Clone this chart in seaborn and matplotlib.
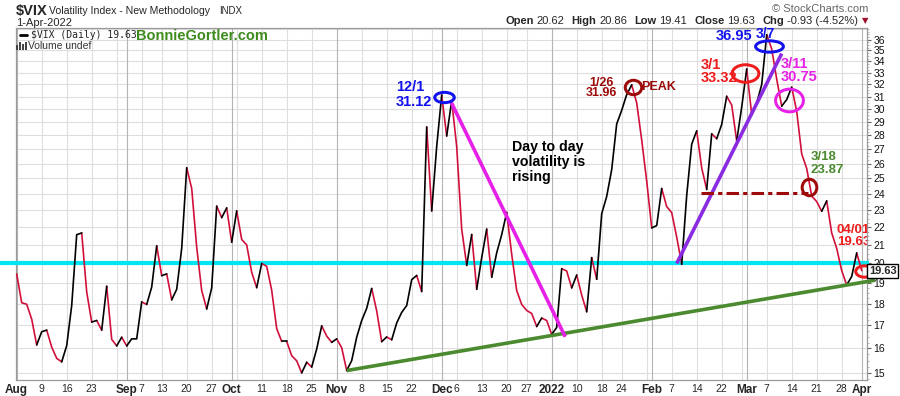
import numpy as np
import pandas as pd
import matplotlib
matplotlib.use("Agg")
import matplotlib.pyplot as plt
import seaborn as sns
from matplotlib import transforms
from matplotlib.lines import Line2D
from matplotlib.markers import MarkerStyle
from matplotlib.patches import Rectangle
from matplotlib.path import Path
from matplotlib.ticker import FixedLocator, NullFormatter

# --- data -----------------------------------------------------------------
HOLIDAYS = ["2021-09-06", "2021-11-25", "2021-12-24", "2022-01-17", "2022-02-21"]
trade_days = pd.bdate_range("2021-08-02", "2022-04-01")
trade_days = trade_days[~trade_days.isin(pd.to_datetime(HOLIDAYS))]

vix_close = [
    # Aug 2021
    19.46, 18.04, 17.97, 17.28, 16.15, 16.72, 16.79, 16.06, 15.59, 15.45, 16.12,
    17.91, 21.57, 21.67, 18.56, 17.15, 17.22, 16.79, 18.84, 16.39, 16.11, 16.48,
    # Sep
    16.11, 16.41, 16.41, 18.08, 17.96, 18.80, 20.95, 19.37, 19.46, 18.18, 18.69,
    20.81, 25.71, 24.36, 20.87, 18.63, 17.75, 18.76, 23.25, 22.56, 23.14,
    # Oct
    21.15, 22.96, 21.30, 21.00, 19.54, 18.77, 20.00, 19.85, 18.64, 16.86, 16.30,
    16.30, 15.70, 15.49, 15.01, 15.43, 15.24, 15.98, 16.98, 16.53, 16.26,
    # Nov
    16.41, 16.03, 15.10, 15.50, 16.48, 17.22, 17.78, 18.73, 17.66, 16.29, 16.49,
    16.37, 17.11, 17.59, 17.91, 19.17, 19.38, 18.58, 28.62, 22.96, 27.19,
    # Dec
    31.12, 27.95, 30.67, 27.18, 21.89, 19.90, 21.58, 18.69, 20.31, 21.89, 19.29,
    20.57, 21.57, 22.87, 20.49, 18.63, 17.96, 17.68, 17.54, 16.95, 17.33, 17.22,
    # Jan 2022
    16.60, 16.91, 19.73, 19.61, 18.76, 19.40, 18.41, 17.62, 20.31, 19.19, 22.79,
    23.85, 25.59, 28.85, 29.90, 31.16, 31.96, 30.49, 27.66, 24.83,
    # Feb
    21.96, 22.09, 24.35, 23.22, 22.86, 21.44, 19.96, 23.91, 27.36, 28.33, 25.70,
    24.29, 28.11, 27.75, 28.81, 31.02, 30.32, 27.59, 30.15,
    # Mar / Apr 1
    33.32, 29.57, 30.48, 31.98, 36.45, 35.13, 32.45, 30.23, 30.75, 31.77, 29.83,
    26.67, 25.67, 23.87, 23.53, 22.94, 23.57, 21.67, 20.81, 19.63, 18.90, 19.33,
    20.56, 19.63,
]

tick_dates = [
    "2021-08-02", "2021-08-09", "2021-08-16", "2021-08-23",
    "2021-09-01", "2021-09-07", "2021-09-13", "2021-09-20", "2021-09-27",
    "2021-10-01", "2021-10-11", "2021-10-18", "2021-10-25",
    "2021-11-01", "2021-11-08", "2021-11-15", "2021-11-22",
    "2021-12-01", "2021-12-06", "2021-12-13", "2021-12-20", "2021-12-27",
    "2022-01-03", "2022-01-10", "2022-01-18", "2022-01-24",
    "2022-02-01", "2022-02-07", "2022-02-14", "2022-02-22",
    "2022-03-01", "2022-03-07", "2022-03-14", "2022-03-21", "2022-03-28",
    "2022-04-01",
]
tick_labels = [
    "Aug", "9", "16", "23", "Sep", "7", "13", "20", "27", "Oct", "11", "18", "25",
    "Nov", "8", "15", "22", "Dec", "6", "13", "20", "27", "2022", "10", "18", "24",
    "Feb", "7", "14", "22", "Mar", "7", "14", "21", "28", "Apr",
]
y_ticks = list(range(15, 37))

quote = [("Open", "20.62"), ("High", "20.86"), ("Low", "19.41"),
         ("Close", "19.63"), ("Chg", "-0.93 (-4.52%)")]

# --- style ----------------------------------------------------------------
W, H = 900, 396
BLUE = "#1212ee"
DARK_RED = "#9c0a0a"
RED = "#ee1c1c"
MAGENTA = "#e620e6"
GREEN = "#4b8a2f"
CYAN = "#00e6f0"
PURPLE = "#8a2be2"
LINE_RED = "#d0103a"
GRID = "#dedede"
GRID_DARK = "#b4b4b4"

sns.set_style("white")
plt.rcParams["font.family"] = ["Liberation Sans", "DejaVu Sans"]
plt.rcParams["lines.scale_dashes"] = False

close = np.array(vix_close)


def day(d):
    return int(trade_days.get_loc(pd.Timestamp(d)))


def fx(x):
    return x / W


def fy(y):
    return 1 - y / H


# split the close series into up (black) / down (red) runs
rows = []
run, prev = 0, None
for i in range(1, len(close)):
    move = "up" if close[i] >= close[i - 1] else "down"
    if move != prev:
        run += 1
        rows.append((run, move, i - 1, close[i - 1]))
    rows.append((run, move, i, close[i]))
    prev = move
seg = pd.DataFrame(rows, columns=["run", "move", "idx", "vix"])

fig = plt.figure(figsize=(W / 100, H / 100), dpi=100)
ax = fig.add_axes([fx(16), 16 / H, 851 / W, 352 / H])
ax.set_yscale("log")

sns.lineplot(data=seg, x="idx", y="vix", hue="move", units="run", estimator=None,
             sort=False, palette={"up": "black", "down": LINE_RED}, linewidth=1.2,
             legend=False, ax=ax, zorder=5)

ax.set_xlim(-0.14, 170.06)
ax.set_ylim(14.73, 37.11)

# grid: integer levels, week starts, darker month starts
for v in range(15, 38):
    ax.axhline(v, color=GRID, lw=0.8, zorder=0)
pos = pd.Series(np.arange(len(trade_days)), index=trade_days)
week_starts = set(pos.groupby(trade_days.to_period("W")).min().values)
month_starts = set(pos.groupby(trade_days.to_period("M")).min().values)
for i in sorted(week_starts | month_starts):
    ax.axvline(i, color=GRID_DARK if i in month_starts else GRID, lw=0.8, zorder=0)

# axes
for sp in ax.spines.values():
    sp.set_color("#9a9a9a")
    sp.set_linewidth(0.9)
ax.set_xlabel("")
ax.set_ylabel("")
ax.yaxis.tick_right()
ax.set_yticks(y_ticks)
ax.set_yticklabels([str(v) for v in y_ticks])
ax.yaxis.set_minor_locator(FixedLocator(np.arange(14.75, 37.1, 0.25)))
ax.yaxis.set_minor_formatter(NullFormatter())
ax.tick_params(axis="y", which="major", length=3, width=0.8, color="#666",
               pad=1.5, labelsize=7.5, labelcolor="#111")
ax.tick_params(axis="y", which="minor", length=1.5, width=0.5, color="#999")
ax.set_xticks([day(d) for d in tick_dates])
ax.set_xticklabels(tick_labels)
for lab in ax.get_xticklabels():
    if len(lab.get_text()) > 2:
        lab.set_fontweight("bold")
        lab.set_fontsize(8.5)
    else:
        lab.set_fontsize(7.5)
ax.xaxis.set_minor_locator(FixedLocator(range(len(trade_days))))
ax.tick_params(axis="x", which="major", length=2, width=0.8, color="#666", pad=1)
ax.tick_params(axis="x", which="minor", length=1.5, width=0.5, color="#999")

# --- drawn annotations ------------------------------------------------------
# cyan level at 20
ax.plot([-3.4, 170.5], [20, 20], color=CYAN, lw=3, clip_on=False, zorder=4,
        solid_capstyle="butt")

# green support through the Nov-3 and Mar-29 lows, extended
i0, i1 = day("2021-11-03"), day("2022-03-29")
slope = np.log(close[i1] / close[i0]) / (i1 - i0)
x_end = 171.7
ax.plot([i0, x_end], [close[i0], close[i0] * np.exp(slope * (x_end - i0))],
        color=GREEN, lw=2.6, clip_on=False, zorder=6, solid_capstyle="butt")

# magenta falling trend line from the December high
ax.plot([86.7, 109.7], [30.7, 16.5], color=MAGENTA, lw=2.6, zorder=6,
        solid_capstyle="butt")
# purple rising trend line from the February low
ax.plot([132.0, 153.0], [20.0, 34.7], color=PURPLE, lw=2.6, zorder=6,
        solid_capstyle="butt")
# dark red dash-dot level
ax.plot([136.9, 158.3], [24.05, 24.05], color=DARK_RED, lw=2.2, zorder=6,
        dashes=(9, 3, 3, 3), solid_capstyle="butt")

# ellipses around key closes (w, h in pixels; dx, dy pixel offset, up positive)
ring = Path.unit_circle()


def ellipse(d, dx, dy, w, h, color, lw=3.0):
    i = day(d)
    path = ring.transformed(transforms.Affine2D().scale(1, h / w))
    tr = transforms.offset_copy(ax.transData, fig=fig, x=dx, y=dy, units="dots")
    ax.plot([i], [close[i]], marker=MarkerStyle(path), ms=w * 0.72 * 1.03,
            mfc="none", mec=color, mew=lw * 0.72, transform=tr, clip_on=False,
            zorder=8)


ellipse("2021-12-01", 2.3, -2, 19, 10, BLUE)
ellipse("2022-01-26", 1.5, -2.5, 16, 14, DARK_RED)
ellipse("2022-03-01", -1.7, -4, 26, 17, RED)
ellipse("2022-03-07", 2.5, -11.5, 27, 11, BLUE)
ellipse("2022-03-11", 2.5, 0, 27, 22, MAGENTA)
ellipse("2022-03-18", -2.7, 9, 16, 18, DARK_RED)
ellipse("2022-04-01", 2.3, -0.5, 17, 11, RED)


# annotation texts (data coordinates)
def note(x, y, s, color, size=10.5, ha="left", ls=1.0, clip=False):
    ax.text(x, y, s, color=color, fontsize=size, fontweight="bold", ha=ha,
            va="center", multialignment=ha, linespacing=ls, zorder=9,
            clip_on=clip)


note(75.9, 31.2, "12/1\n31.12", BLUE, size=10.5, ls=1.1)
note(117.0, 31.7, "1/26\n31.96", DARK_RED, size=9, ha="center", ls=0.85)
note(124.9, 31.8, "PEAK", DARK_RED, size=9)
note(136.9, 33.14, "3/1\n33.32", RED, size=10.5, ls=0.92)
note(139.9, 36.3, "36.95", BLUE, size=10.5)
note(147.9, 36.5, "3/7", BLUE, size=10)
note(152.9, 33.18, "3/11\n30.75", MAGENTA, size=10.5, ls=0.92)
note(158.7, 26.0, "3/18\n23.87", GREEN, size=9.5, ls=1.15)
note(164.0, 21.49, "04/01\n19.63", RED, size=9.5, ls=1.05, clip=True)
note(99.1, 26.13, "Day to day\nvolatility is\nrising", "black", size=10.2, ls=1.1)

# --- header -----------------------------------------------------------------
fig.text(fx(16), fy(11), "$VIX", fontsize=10.5, fontweight="bold", va="center")
fig.text(fx(49), fy(11), "Volatility Index - New Methodology", fontsize=7.6,
         va="center")
fig.text(fx(219), fy(11), "INDX", fontsize=7, va="center")
fig.text(fx(16), fy(23), "1-Apr-2022", fontsize=8, va="center")
fig.text(fx(868), fy(9), "\u00a9 StockCharts.com", fontsize=8, color="#666",
         ha="right", va="center")

# quote line, laid out right-to-left so it ends before the red arrow
renderer = fig.canvas.get_renderer()
x = 858
for label, value in reversed(quote):
    t = fig.text(fx(x), fy(21), value, fontsize=8, ha="right", va="center")
    x -= t.get_window_extent(renderer).width + 3
    t = fig.text(fx(x), fy(21), label, fontsize=8, fontweight="bold", ha="right",
                 va="center")
    x -= t.get_window_extent(renderer).width + 7
fig.text(fx(865), fy(21), "\u25bc", fontsize=6, color="#a0102a", ha="center",
         va="center", family=["DejaVu Sans"])

# in-plot legend line
fig.add_artist(Line2D([fx(20), fx(27)], [fy(35), fy(35)], color="black", lw=2))
fig.text(fx(31), fy(35), "$VIX (Daily) 19.63", fontsize=7, va="center",
         family=["DejaVu Sans Mono"])
fig.text(fx(136), fy(36), "BonnieGortler.com", fontsize=10.5, fontweight="bold",
         color="#3e8b1e", va="center")
for bx, bh in zip([16, 19, 22, 25], [5, 8, 6, 8]):
    fig.add_artist(Rectangle((fx(bx), fy(50)), 2 / W, bh / H, color="#444", lw=0))
fig.text(fx(28), fy(46), "Volume undef", fontsize=7.5, color="#333", va="center")

# last value box on the price axis
fig.text(fx(869), fy(271), "19.63", fontsize=8, fontweight="bold", va="center",
         bbox=dict(boxstyle="square,pad=0.15", fc="white", ec="black", lw=1))

fig.savefig("out.png", dpi=100)
